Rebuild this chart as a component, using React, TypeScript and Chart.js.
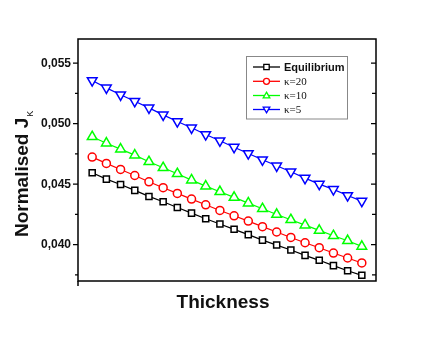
import React, { useEffect, useRef } from "react";
import { Chart, registerables } from "chart.js";

Chart.register(...registerables);

const THICKNESS = [1, 2, 3, 4, 5, 6, 7, 8, 9, 10, 11, 12, 13, 14, 15, 16, 17, 18, 19, 20];

const EQUILIBRIUM = [0.04594, 0.04542, 0.04498, 0.04449, 0.04399, 0.04355, 0.04308, 0.04261, 0.04215, 0.04171,
  0.04127, 0.04083, 0.04038, 0.03997, 0.03956, 0.03912, 0.03871, 0.03827, 0.03785, 0.03747];
const KAPPA20 = [0.04724, 0.04672, 0.04622, 0.04572, 0.0452, 0.04471, 0.04424, 0.04377, 0.0433, 0.04283,
  0.04239, 0.04195, 0.04149, 0.04105, 0.0406, 0.04016, 0.03975, 0.03931, 0.0389, 0.03849];
const KAPPA10 = [0.04892, 0.04839, 0.0479, 0.0474, 0.04685, 0.04636, 0.04586, 0.04534, 0.04484, 0.04438,
  0.04391, 0.04344, 0.04297, 0.0425, 0.04206, 0.04162, 0.04118, 0.04074, 0.04033, 0.03986];
const KAPPA5 = [0.05357, 0.05296, 0.05239, 0.05186, 0.05131, 0.05073, 0.05018, 0.04966, 0.04911, 0.04859,
  0.04806, 0.04754, 0.04702, 0.04652, 0.04603, 0.0455, 0.04501, 0.04457, 0.04407, 0.0436];

const SERIES_LABELS = ["Equilibrium", "κ=20", "κ=10", "κ=5"];
const Y_TICKS = [0.0375, 0.04, 0.0425, 0.045, 0.0475, 0.05, 0.0525, 0.055];
const Y_MIN = 0.037;
const Y_MAX = 0.057;
const X_TITLE = "Thickness";
const Y_TITLE = "Normalised J";
const Y_TITLE_SUB = "K";

const COLORS = ["#000000", "#ff0000", "#00ff00", "#0000ff"];
const STYLES = ["rect", "circle", "triangle", "triangle"];
const ROTATIONS = [0, 0, 0, 180];
const RADII = [4.3, 4, 5.6, 5.6];

function drawMarker(ctx: CanvasRenderingContext2D, kind: number, x: number, y: number, s: number) {
  ctx.beginPath();
  if (kind === 0) {
    ctx.rect(x - s, y - s, 2 * s, 2 * s);
  } else if (kind === 1) {
    ctx.arc(x, y, s, 0, Math.PI * 2);
  } else if (kind === 2) {
    ctx.moveTo(x, y - s * 1.1);
    ctx.lineTo(x + s * 1.1, y + s * 0.8);
    ctx.lineTo(x - s * 1.1, y + s * 0.8);
    ctx.closePath();
  } else {
    ctx.moveTo(x, y + s * 1.1);
    ctx.lineTo(x + s * 1.1, y - s * 0.8);
    ctx.lineTo(x - s * 1.1, y - s * 0.8);
    ctx.closePath();
  }
  ctx.fillStyle = "#fff";
  ctx.fill();
  ctx.stroke();
}

const framePlugin = {
  id: "frame",
  afterDraw(chart: any) {
    const ctx: CanvasRenderingContext2D = chart.ctx;
    const a = chart.chartArea;
    const ys = chart.scales.y;
    ctx.save();
    ctx.strokeStyle = "#000";
    ctx.lineWidth = 1.5;
    ctx.strokeRect(a.left, a.top, a.right - a.left, a.bottom - a.top);
    ctx.beginPath();
    ctx.moveTo(a.left, a.bottom);
    ctx.lineTo(a.left, a.bottom + 5);
    ctx.stroke();
    ctx.lineWidth = 1.3;
    Y_TICKS.forEach((v) => {
      const major = Math.round(v * 10000) % 50 === 0;
      const py = ys.getPixelForValue(v);
      const len = major ? 5 : 3;
      ctx.beginPath();
      ctx.moveTo(a.left, py);
      ctx.lineTo(a.left - len, py);
      ctx.moveTo(a.right, py);
      ctx.lineTo(a.right - (major ? 5 : 4), py);
      ctx.stroke();
    });

    // axis titles
    ctx.fillStyle = "#111";
    ctx.font = "bold 19px 'Liberation Sans', Arial, sans-serif";
    ctx.textAlign = "center";
    ctx.textBaseline = "alphabetic";
    ctx.fillText(X_TITLE, 223, 308);

    ctx.save();
    ctx.translate(28, 237);
    ctx.rotate(-Math.PI / 2);
    ctx.textAlign = "left";
    ctx.fillText(Y_TITLE, 0, 0);
    const w = ctx.measureText(Y_TITLE).width;
    ctx.font = "9px 'Liberation Sans', Arial, sans-serif";
    ctx.fillText(Y_TITLE_SUB, w + 1, 5);
    ctx.restore();

    // legend
    const bx = 246.5, by = 56.5, bw = 101, bh = 62.5;
    ctx.fillStyle = "#fff";
    ctx.fillRect(bx, by, bw, bh);
    ctx.strokeStyle = "#888";
    ctx.lineWidth = 1;
    ctx.strokeRect(bx, by, bw, bh);
    const rows = [67, 81.3, 95.5, 109.5];
    chart.data.datasets.forEach((ds: any, i: number) => {
      const ry = rows[i];
      ctx.strokeStyle = ds.borderColor;
      ctx.lineWidth = 1.3;
      ctx.beginPath();
      ctx.moveTo(253, ry);
      ctx.lineTo(280, ry);
      ctx.stroke();
      drawMarker(ctx, i, 266.5, ry, i === 0 ? 2.7 : 3);
      ctx.fillStyle = "#111";
      ctx.textAlign = "left";
      ctx.textBaseline = "middle";
      ctx.font = i === 0
        ? "bold 11px 'Liberation Sans', Arial, sans-serif"
        : "11px 'Liberation Serif', 'Times New Roman', serif";
      ctx.fillText(ds.label, 284, ry + 0.5);
    });
    ctx.restore();
  },
};

export default function App() {
  const ref = useRef<HTMLCanvasElement | null>(null);
  useEffect(() => {
    if (!ref.current) return;
    const seriesValues = [EQUILIBRIUM, KAPPA20, KAPPA10, KAPPA5];
    const chart = new Chart(ref.current, {
      type: "line",
      data: {
        datasets: seriesValues.map((vals, i) => ({
          label: SERIES_LABELS[i],
          data: vals.map((v, j) => ({ x: THICKNESS[j], y: v })),
          borderColor: COLORS[i],
          borderWidth: 1.2,
          pointStyle: STYLES[i] as any,
          pointRotation: ROTATIONS[i],
          pointRadius: RADII[i],
          pointBorderWidth: 1.5,
          pointBackgroundColor: "#fff",
          pointBorderColor: COLORS[i],
          tension: 0,
          fill: false,
        })),
      },
      options: {
        animation: false,
        responsive: false,
        maintainAspectRatio: false,
        layout: { padding: { left: 0, top: 39, right: 60, bottom: 0 } },
        plugins: { legend: { display: false }, tooltip: { enabled: false }, title: { display: false } },
        scales: {
          x: {
            type: "linear",
            min: 0,
            max: 21,
            grid: { display: false, drawTicks: false },
            border: { display: false },
            ticks: { display: false },
            afterFit: (s: any) => { s.height = 56; },
          },
          y: {
            type: "linear",
            min: Y_MIN,
            max: Y_MAX,
            grid: { display: false, drawTicks: false },
            border: { display: false },
            afterBuildTicks: (s: any) => {
              s.ticks = Y_TICKS.map((v) => ({ value: v }));
            },
            ticks: {
              autoSkip: false,
              padding: 7,
              color: "#111",
              font: { family: "'Liberation Sans', Arial, sans-serif", size: 12, weight: "bold" },
              callback: (v: any) =>
                Math.round(Number(v) * 10000) % 50 === 0 ? Number(v).toFixed(3).replace(".", ",") : "",
            },
            afterFit: (s: any) => { s.width = 78; },
          },
        },
      },
      plugins: [framePlugin],
    });
    return () => chart.destroy();
  }, []);
  return (
    <div style={{ position: "fixed", left: 0, top: 0, width: 436, height: 337, background: "#fff" }}>
      <canvas ref={ref} width={436} height={337} style={{ width: 436, height: 337 }} />
    </div>
  );
}
